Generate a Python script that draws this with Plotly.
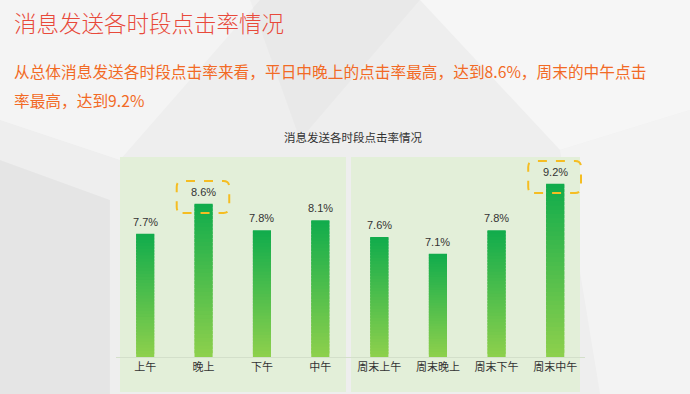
import plotly.graph_objects as go
import numpy as np

# ---- data ----
weekday_labels = ["上午", "晚上", "下午", "中午"]
weekday_values = [7.7, 8.6, 7.8, 8.1]
weekend_labels = ["周末上午", "周末晚上", "周末下午", "周末中午"]
weekend_values = [7.6, 7.1, 7.8, 9.2]
title_text = "消息发送各时段点击率情况"
subtitle_lines = ["从总体消息发送各时段点击率来看，平日中晚上的点击率最高，达到8.6%，周末的中午点击",
                  "率最高，达到9.2%"]
chart_title = "消息发送各时段点击率情况"

W, H = 690, 394
Y_MIN, Y_MAX = 4, 10
N_SEG = 40
TOP = np.array([16, 172, 76])
BOT = np.array([142, 208, 76])

def px(x):
    return x / W

def py(y):
    return 1 - y / H

def col(t):
    c = BOT + (TOP - BOT) * t
    return "rgb(%d,%d,%d)" % tuple(c.round().astype(int))

fig = go.Figure()
annotations = []

def add_panel(labels, values, xa, ya):
    xs, ys, bases, cols = [], [], [], []
    for i, v in enumerate(values):
        h = (v - Y_MIN) / N_SEG
        for k in range(N_SEG):
            hk = h * 1.8 if k < N_SEG - 1 else h
            xs.append(i)
            ys.append(hk)
            bases.append(Y_MIN + k * h)
            cols.append(col((k + 0.5) / N_SEG))
    fig.add_trace(go.Bar(x=xs, y=ys, base=bases, marker=dict(color=cols, line=dict(width=0)),
                         width=0.31, xaxis=xa, yaxis=ya, hoverinfo="skip", showlegend=False))
    for i, v in enumerate(values):
        annotations.append(dict(x=i, y=v, xref=xa, yref=ya, text="%.1f%%" % v,
                                showarrow=False, yanchor="bottom", yshift=4,
                                font=dict(size=11, color="#333333", family="Liberation Sans")))

add_panel(weekday_labels, weekday_values, "x", "y")
add_panel(weekend_labels, weekend_values, "x2", "y2")

# background facets
shapes = []
facets = [
    ("M0,0 L260,0 L120,160 L0,120 Z", "rgba(255,255,255,0.35)"),
    ("M420,0 L690,0 L690,110 L560,150 Z", "rgba(255,255,255,0.45)"),
    ("M560,150 L690,110 L690,394 L600,394 Z", "rgba(255,255,255,0.3)"),
    ("M0,160 L110,200 L110,394 L0,394 Z", "rgba(0,0,0,0.035)"),
    ("M250,0 L420,0 L300,140 Z", "rgba(0,0,0,0.02)"),
]
def conv(path):
    out = []
    for seg in path.split():
        if seg[0] in "ML":
            a, b = seg[1:].split(",")
            out.append(seg[0] + "%.4f,%.4f" % (px(float(a)), py(float(b))))
        else:
            out.append(seg)
    return " ".join(out)

for path, fc in facets:
    shapes.append(dict(type="path", xref="paper", yref="paper", layer="below",
                       path=conv(path), fillcolor=fc, line=dict(width=0)))

# panel backgrounds
for x0, x1 in [(120, 346), (351, 580)]:
    shapes.append(dict(type="rect", xref="paper", yref="paper", layer="below",
                       x0=px(x0), x1=px(x1), y0=py(392), y1=py(157),
                       fillcolor="#e3efd9", line=dict(width=0)))

# dashed rounded highlight boxes around the maximum of each panel
def rounded_box(xa, ya, i, v):
    x0, x1 = i - 0.46, i + 0.44
    y0, y1 = v - 0.28, v + 0.68
    rx, ry = 0.1, 0.18
    path = (f"M{x0+rx},{y0} L{x1-rx},{y0} Q{x1},{y0} {x1},{y0+ry} L{x1},{y1-ry} "
            f"Q{x1},{y1} {x1-rx},{y1} L{x0+rx},{y1} Q{x0},{y1} {x0},{y1-ry} "
            f"L{x0},{y0+ry} Q{x0},{y0} {x0+rx},{y0} Z")
    return dict(type="path", xref=xa, yref=ya, path=path, layer="above",
                line=dict(color="#f5bd22", width=2, dash="dash"))

iw = int(np.argmax(weekday_values))
ie = int(np.argmax(weekend_values))
shapes.append(rounded_box("x", "y", iw, weekday_values[iw]))
shapes.append(rounded_box("x2", "y2", ie, weekend_values[ie]))

annotations += [
    dict(text=title_text, x=px(12), y=py(22), xref="paper", yref="paper", xanchor="left",
         yanchor="middle", showarrow=False,
         font=dict(size=22.5, color="#e8493a", family="Noto Sans CJK SC", weight=300)),
    dict(text=subtitle_lines[0], x=px(12), y=py(71), xref="paper", yref="paper", xanchor="left",
         yanchor="middle", showarrow=False,
         font=dict(size=15.7, color="#f26a25", family="Noto Sans CJK SC")),
    dict(text=subtitle_lines[1], x=px(12), y=py(100), xref="paper", yref="paper", xanchor="left",
         yanchor="middle", showarrow=False,
         font=dict(size=15.7, color="#f26a25", family="Noto Sans CJK SC")),
    dict(text=chart_title, x=px(353), y=py(137), xref="paper", yref="paper", xanchor="center",
         yanchor="middle", showarrow=False,
         font=dict(size=11.5, color="#333333", family="Noto Sans CJK SC")),
]

axis_common = dict(showgrid=False, zeroline=False, showline=True, linecolor="#d3dfca",
                   linewidth=1, ticks="", tickfont=dict(size=11, color="#333333",
                                                        family="Noto Sans CJK SC"),
                   range=[-0.5, 3.5], fixedrange=True)
yaxis_common = dict(range=[Y_MIN, Y_MAX], showgrid=False, zeroline=False, showline=False,
                    showticklabels=False, fixedrange=True, domain=[py(357), py(157)])

fig.update_layout(
    width=W, height=H, margin=dict(l=0, r=0, t=0, b=0),
    paper_bgcolor="#eeeeee", plot_bgcolor="rgba(0,0,0,0)",
    barmode="overlay", showlegend=False,
    xaxis=dict(domain=[px(116), px(349.5)], tickvals=list(range(4)), ticktext=weekday_labels,
               anchor="y", **axis_common),
    yaxis=dict(anchor="x", **yaxis_common),
    xaxis2=dict(domain=[px(350), px(584.5)], tickvals=list(range(4)), ticktext=weekend_labels,
                anchor="y2", **axis_common),
    yaxis2=dict(anchor="x2", **yaxis_common),
    shapes=shapes, annotations=annotations,
)

fig.write_html("out.html")
